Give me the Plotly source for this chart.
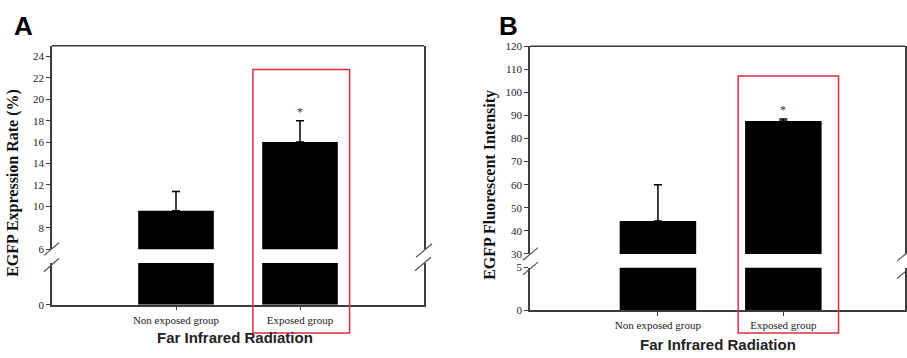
import plotly.graph_objects as go

# ---- data ----
categories = ["Non exposed group", "Exposed group"]

rate_values = [9.6, 16.0]          # EGFP expression rate (%)
rate_errors = [1.8, 2.0]
rate_upper_ticks = [6, 8, 10, 12, 14, 16, 18, 20, 22, 24]
rate_lower_ticks = [0]

intensity_values = [44.3, 87.6]    # EGFP fluorescent intensity
intensity_errors = [15.7, 0.9]
intensity_upper_ticks = [30, 40, 50, 60, 70, 80, 90, 100, 110, 120]
intensity_lower_ticks = [0, 5]

significance = ["", "*"]

# ---- canvas helpers (pixel -> paper) ----
W, H = 907, 358


def px(x):
    return x / W


def py(y):
    return 1 - y / H


AXIS = "#3c3c3c"
ERR = "#000000"
SERIF = "Liberation Serif"
SANS = "Liberation Sans"
RED = "#dd2e44"

fig = go.Figure()


def add_panel(values, errors, x_ax, y_low, y_up):
    # lower (broken) segment
    fig.add_trace(go.Bar(
        x=categories, y=values, xaxis=x_ax, yaxis=y_low,
        marker=dict(color="black", line=dict(width=0)), width=0.61,
        hoverinfo="skip",
    ))
    # upper segment with one-sided error bars
    fig.add_trace(go.Bar(
        x=categories, y=values, xaxis=x_ax, yaxis=y_up,
        marker=dict(color="black", line=dict(width=0)), width=0.61,
        error_y=dict(type="data", array=errors, arrayminus=[0] * len(errors),
                     symmetric=False, color=ERR, thickness=1.5, width=4),
        hoverinfo="skip",
    ))
    for cat, v, e, s in zip(categories, values, errors, significance):
        if s:
            fig.add_annotation(x=cat, y=v + e, xref=x_ax, yref=y_up, text=s,
                               showarrow=False, yanchor="bottom", yshift=0,
                               font=dict(family=SERIF, size=12, color="#333"))


add_panel(rate_values, rate_errors, "x", "y", "y2")
add_panel(intensity_values, intensity_errors, "x2", "y3", "y4")

tickfont = dict(family=SERIF, size=11, color="#222")
common_y = dict(showgrid=False, zeroline=False, showline=True, linecolor=AXIS,
                linewidth=1.5, mirror=True, ticks="outside", ticklen=4,
                tickcolor=AXIS, tickwidth=1, tickfont=tickfont, tickmode="array",
                fixedrange=True)
common_x = dict(showgrid=False, zeroline=False, showline=True, linecolor=AXIS,
                linewidth=1.5, ticks="outside", ticklen=4, tickcolor=AXIS,
                tickfont=tickfont, type="category", fixedrange=True)

fig.update_layout(
    width=W, height=H, margin=dict(l=0, r=0, t=0, b=0),
    paper_bgcolor="white", plot_bgcolor="white", showlegend=False,
    barmode="overlay",
    xaxis=dict(common_x, domain=[px(52), px(424)], range=[-1.0, 2.0], anchor="y"),
    yaxis=dict(common_y, domain=[py(309), py(266)], range=[0, 5],
               tickvals=rate_lower_ticks, anchor="x"),
    yaxis2=dict(common_y, domain=[py(251.7), py(41)], range=[6, 25],
                tickvals=rate_upper_ticks, anchor="x"),
    xaxis2=dict(common_x, domain=[px(530), px(905)], range=[-1.02, 1.97], anchor="y3"),
    yaxis3=dict(common_y, domain=[py(315), py(270.7)], range=[0, 5],
                tickvals=intensity_lower_ticks, anchor="x2"),
    yaxis4=dict(common_y, domain=[py(256.5), py(41.7)], range=[30, 120],
                tickvals=intensity_upper_ticks, anchor="x2"),
)

shapes = []
# top frame lines
shapes.append(dict(type="line", xref="paper", yref="paper", x0=px(52), x1=px(424),
                   y0=py(41), y1=py(41), line=dict(color=AXIS, width=1.5)))
shapes.append(dict(type="line", xref="paper", yref="paper", x0=px(530), x1=px(905),
                   y0=py(41.7), y1=py(41.7), line=dict(color=AXIS, width=1.5)))

# axis-break slashes
breaks = [
    ((44, 258), (59, 245)), ((44, 275), (59, 261)),
    ((416, 260), (432, 246)), ((415, 274), (431, 260)),
    ((523, 263), (538, 250)), ((523, 278), (538, 265)),
    ((897, 264), (911, 252)), ((897, 282), (911, 270)),
]
for (xa, ya), (xb, yb) in breaks:
    shapes.append(dict(type="line", xref="paper", yref="paper",
                       x0=px(xa), y0=py(ya), x1=px(xb), y1=py(yb),
                       line=dict(color="#555", width=1.2)))

# highlight boxes around the exposed group
shapes.append(dict(type="rect", xref="x", yref="paper", x0=0.62, x1=1.40,
                   y0=py(338.3), y1=py(65.7), line=dict(color=RED, width=1.5)))
shapes.append(dict(type="rect", xref="x2", yref="paper", x0=0.64, x1=1.44,
                   y0=py(338.3), y1=py(72.3), line=dict(color=RED, width=1.5)))
fig.update_layout(shapes=shapes)

# panel letters and axis titles
titles = [
    dict(text="<b>A</b>", x=px(23.5), y=py(21), font=dict(family=SANS, size=26, color="black")),
    dict(text="<b>B</b>", x=px(508.5), y=py(21), font=dict(family=SANS, size=26, color="black")),
    dict(text="<b>EGFP Expression Rate (%)</b>", x=px(13.5), y=py(183.5), textangle=-90,
         font=dict(family=SERIF, size=16, color="#111")),
    dict(text="<b>EGFP Fluorescent Intensity</b>", x=px(490), y=py(185), textangle=-90,
         font=dict(family=SERIF, size=16, color="#111")),
    dict(text="<b>Far Infrared Radiation</b>", x=px(235), y=py(343),
         font=dict(family=SANS, size=15, color="#222")),
    dict(text="<b>Far Infrared Radiation</b>", x=px(717.5), y=py(350),
         font=dict(family=SANS, size=15, color="#222")),
]
for t in titles:
    fig.add_annotation(xref="paper", yref="paper", showarrow=False,
                       xanchor="center", yanchor="middle", **t)

fig.write_html("out.html")
